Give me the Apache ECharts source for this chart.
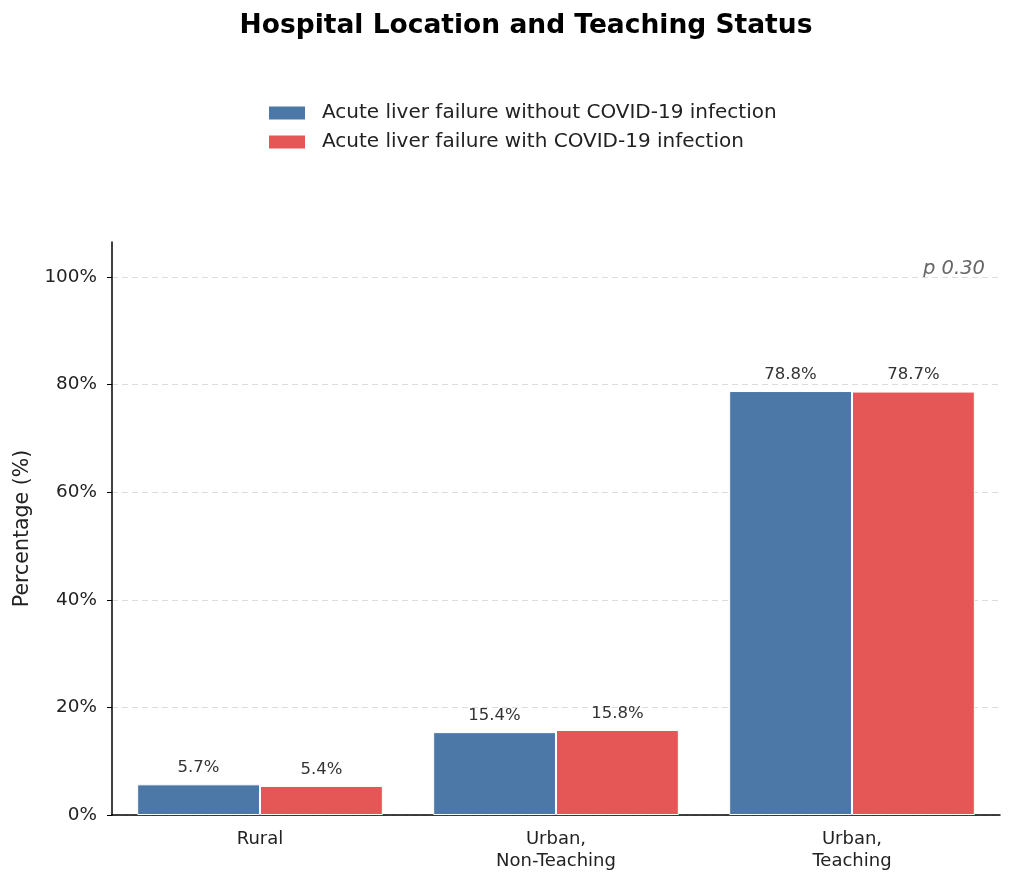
<!DOCTYPE html>
<html>
<head>
<meta charset="utf-8">
<script src="https://cdn.jsdelivr.net/npm/echarts@6/dist/echarts.min.js"></script>
<style>
  html, body { margin: 0; padding: 0; background: #fff; }
  #chart { width: 1012px; height: 883px; }
</style>
</head>
<body>
<div id="chart"></div>
<script>
const categories = ['Rural', 'Urban,\nNon-Teaching', 'Urban,\nTeaching']
const withoutCovid = [5.7, 15.4, 78.8]
const withCovid = [5.4, 15.8, 78.7]
const seriesNames = [
  'Acute liver failure without COVID-19 infection',
  'Acute liver failure with COVID-19 infection',
]
const pValue = 'p 0.30'

const font = 'DejaVu Sans'
const chart = echarts.init(document.getElementById('chart'))

const barLabel = {
  show: true,
  position: 'top',
  distance: 8,
  color: '#333',
  fontFamily: font,
  fontSize: 16.5,
  formatter: p => p.value.toFixed(1) + '%',
}

chart.setOption({
  animation: false,
  textStyle: { fontFamily: font },
  title: {
    text: 'Hospital Location and Teaching Status',
    left: 521,
    textAlign: 'center',
    top: 8,
    textStyle: { fontFamily: font, fontSize: 26.5, fontWeight: 'bold', color: '#000' },
  },
  legend: {
    orient: 'vertical',
    left: 262,
    top: 98,
    itemWidth: 38,
    itemHeight: 15,
    itemGap: 9,
    icon: 'rect',
    textStyle: { fontFamily: font, fontSize: 20, color: '#222', padding: [0, 0, 0, 11] },
  },
  grid: { left: 112, right: 12, top: 242, bottom: 68, containLabel: false },
  xAxis: {
    type: 'category',
    data: categories,
    axisLine: { lineStyle: { color: '#000', width: 1.5 } },
    axisTick: { alignWithLabel: true, length: 5, lineStyle: { color: '#000' } },
    axisLabel: { color: '#222', fontSize: 18, fontFamily: font, margin: 13, lineHeight: 22 },
  },
  yAxis: {
    type: 'value',
    min: 0,
    max: 106.5,
    interval: 20,
    name: 'Percentage (%)',
    nameLocation: 'middle',
    nameGap: 72,
    nameTextStyle: { fontFamily: font, fontSize: 20.5, color: '#222' },
    axisLine: { show: true, lineStyle: { color: '#000', width: 1.5 } },
    axisTick: { show: true, length: 5, lineStyle: { color: '#000' } },
    axisLabel: {
      formatter: '{value}%',
      color: '#222',
      fontSize: 18.4,
      fontFamily: font,
      margin: 15,
      showMaxLabel: false,
    },
    splitLine: { showMaxLine: false, lineStyle: { color: '#dcdcdc', type: [6, 4], width: 1 } },
  },
  graphic: [{
    type: 'text',
    right: 27,
    top: 259,
    style: {
      text: pValue,
      fontFamily: font,
      fontSize: 19.5,
      fontStyle: 'italic',
      fill: '#666',
    },
  }],
  series: [
    {
      name: seriesNames[0],
      type: 'bar',
      data: withoutCovid,
      barGap: '0%',
      barCategoryGap: '17%',
      itemStyle: { color: '#4c78a8', borderColor: '#fff', borderWidth: 1 },
      label: barLabel,
    },
    {
      name: seriesNames[1],
      type: 'bar',
      data: withCovid,
      barGap: '0%',
      barCategoryGap: '17%',
      itemStyle: { color: '#e45756', borderColor: '#fff', borderWidth: 1 },
      label: barLabel,
    },
  ],
})
</script>
</body>
</html>
